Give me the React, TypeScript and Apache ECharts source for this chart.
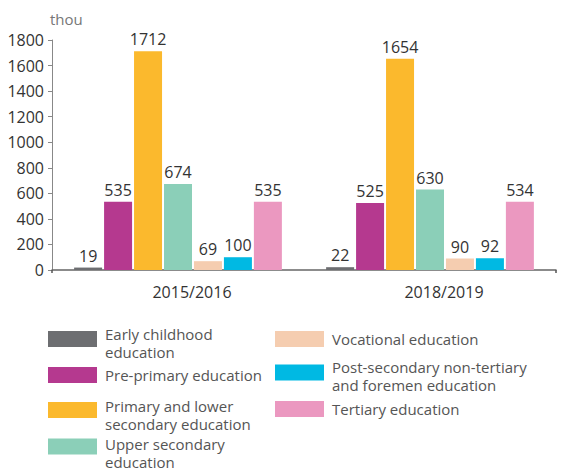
import React, { useEffect, useRef } from "react";
import * as echarts from "echarts";

const categories = ["2015/2016", "2018/2019"];
const seriesNames = [
  "Early childhood\neducation",
  "Pre-primary education",
  "Primary and lower\nsecondary education",
  "Upper secondary\neducation",
  "Vocational education",
  "Post-secondary non-tertiary\nand foremen education",
  "Tertiary education",
];
const earlyChildhood = [19, 22];
const prePrimary = [535, 525];
const primaryLower = [1712, 1654];
const upperSecondary = [674, 630];
const vocational = [69, 90];
const postSecondary = [100, 92];
const tertiary = [535, 534];
const seriesValues = [earlyChildhood, prePrimary, primaryLower, upperSecondary, vocational, postSecondary, tertiary];
const colors = ["#6d6e71", "#b5398f", "#fbb92d", "#8bcfb8", "#f5cdb0", "#00b9e3", "#eb98c0"];
const yTicks = [0, 200, 400, 600, 800, 1000, 1200, 1400, 1600, 1800];

const FONT = "Open Sans";

export default function App() {
  const ref = useRef<HTMLDivElement>(null);
  useEffect(() => {
    if (!ref.current) return;
    const chart = echarts.init(ref.current, undefined, { renderer: "svg" });
    // left, top, and height of a small spacer line that nudges the label below the swatch centre
    const legendPos = [
      { left: 48, top: 317, spacer: 8 },
      { left: 48, top: 366, spacer: 0 },
      { left: 48, top: 387, spacer: 10 },
      { left: 48, top: 422, spacer: 13 },
      { left: 275, top: 330, spacer: 0 },
      { left: 275, top: 351, spacer: 7 },
      { left: 275, top: 400, spacer: 0 },
    ];
    chart.setOption({
      animation: false,
      textStyle: { fontFamily: FONT },
      title: {
        text: "thou",
        left: 50,
        top: 11,
        textStyle: { fontSize: 15, fontWeight: "normal", color: "#777", fontFamily: FONT },
        padding: 0,
      },
      legend: seriesNames.map((n, i) => {
        const sp = legendPos[i].spacer;
        return {
          data: [n],
          left: legendPos[i].left,
          top: legendPos[i].top,
          padding: 0,
          itemWidth: 49,
          itemHeight: 16,
          icon: "rect",
          selectedMode: false,
          formatter: (name: string) => {
            const lines = name.split("\n").map((l) => `{a|${l}}`).join("\n");
            return sp > 0 ? `{s| }\n${lines}` : lines;
          },
          textStyle: {
            fontSize: 15,
            lineHeight: 18,
            color: "#555",
            fontFamily: FONT,
            padding: [0, 0, 0, 3],
            rich: {
              a: { fontSize: 15, lineHeight: 18, color: "#555", fontFamily: FONT },
              s: { fontSize: 1, lineHeight: sp || 1, color: "#fff" },
            },
          },
        };
      }),
      grid: { left: 52, right: 7, top: 40, bottom: 200, containLabel: false },
      xAxis: {
        type: "category",
        data: categories,
        axisLine: { lineStyle: { color: "#666", width: 1.5 } },
        axisTick: {
          show: true,
          length: 3,
          interval: (i: number) => i !== 0,
          lineStyle: { color: "#555", width: 1.5 },
        },
        axisLabel: {
          fontSize: 16,
          color: "#333",
          margin: 14,
          padding: [0, 0, 0, 28],
          fontFamily: FONT,
        },
      },
      yAxis: {
        type: "value",
        min: yTicks[0],
        max: yTicks[yTicks.length - 1],
        interval: 200,
        splitLine: { show: false },
        axisLine: { show: true, lineStyle: { color: "#888" } },
        axisTick: { show: true, length: 4, lineStyle: { color: "#888" } },
        axisLabel: {
          fontSize: 16,
          color: "#333",
          margin: 8,
          fontFamily: FONT,
          formatter: (v: number) => String(v),
        },
      },
      series: seriesNames.map((n, i) => ({
        name: n,
        type: "bar",
        data: seriesValues[i],
        barWidth: 28,
        barGap: "7%",
        itemStyle: { color: colors[i] },
        label: {
          show: true,
          position: "top",
          distance: 4,
          fontSize: 16,
          color: "#333",
          fontFamily: FONT,
        },
      })),
    });
    return () => chart.dispose();
  }, []);
  return <div ref={ref} style={{ width: 563, height: 470, position: "absolute", left: 0, top: 0 }} />;
}
